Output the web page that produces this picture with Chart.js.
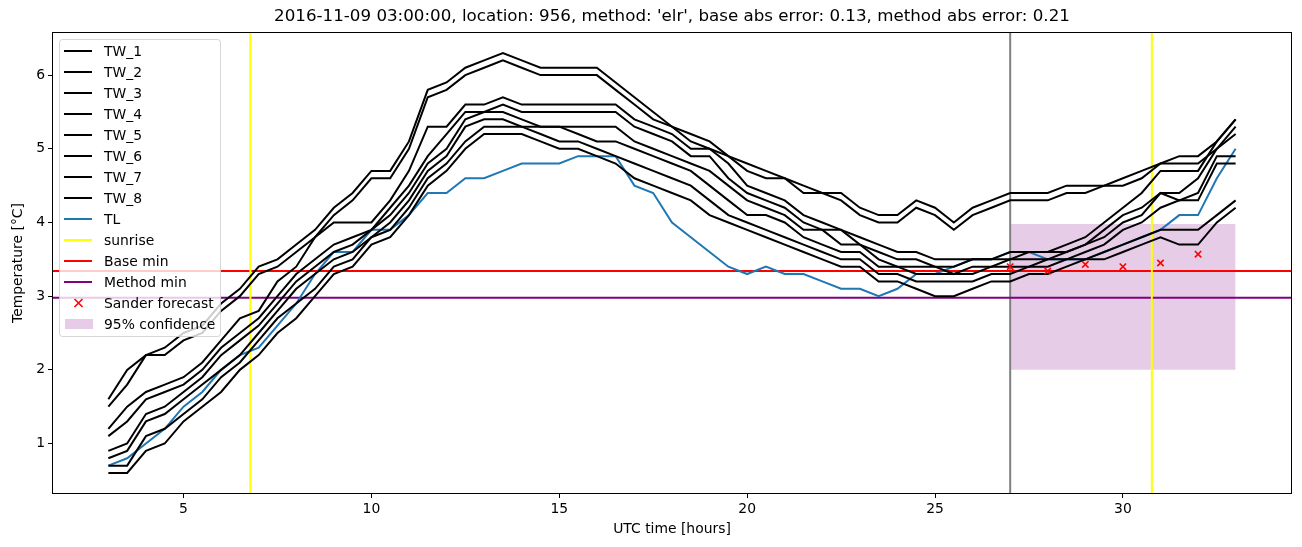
<!DOCTYPE html>
<html lang="en">
<head>
  <meta charset="UTF-8">
  <title>Temperature forecast</title>
  <script src="https://cdn.jsdelivr.net/npm/chart.js"></script>
</head>
<body>
  <div id="chart-container">
    <canvas id="temp-chart" width="1302" height="547"></canvas>
  </div>
</body>
</html>
<style>
html, body { margin: 0; padding: 0; background: #fff; }
#chart-container { width: 1302px; height: 547px; }
canvas { display: block; }
</style>
<script>
// time axis (UTC hours) shared by all measured series
const hours = [3,3.5,4,4.5,5,5.5,6,6.5,7,7.5,8,8.5,9,9.5,10,10.5,11,11.5,12,12.5,13,13.5,14,14.5,15,15.5,16,16.5,17,17.5,18,18.5,19,19.5,20,20.5,21,21.5,22,22.5,23,23.5,24,24.5,25,25.5,26,26.5,27,27.5,28,28.5,29,29.5,30,30.5,31,31.5,32,32.5,33];

const tw1 = [1.6,2.0,2.2,2.3,2.5,2.6,2.9,3.1,3.4,3.5, 3.7,3.9,4.2,4.4,4.7,4.7,5.1,5.8,5.9,6.1, 6.2,6.3,6.2,6.1,6.1,6.1,6.1,5.9,5.7,5.5, 5.3,5.2,5.1,4.9,4.8,4.7,4.6,4.5,4.4,4.4, 4.2,4.1,4.1,4.3,4.2,4.0,4.2,4.3,4.4,4.4, 4.4,4.5,4.5,4.5,4.6,4.7,4.8,4.9,4.9,5.1, 5.4];
const tw2 = [1.5,1.8,2.2,2.2,2.4,2.5,2.8,3.0,3.3,3.4, 3.6,3.8,4.1,4.3,4.6,4.6,5.0,5.7,5.8,6.0, 6.1,6.2,6.1,6.0,6.0,6.0,6.0,5.8,5.6,5.4, 5.3,5.1,5.0,4.9,4.7,4.6,4.6,4.4,4.4,4.3, 4.1,4.0,4.0,4.2,4.1,3.9,4.1,4.2,4.3,4.3, 4.3,4.4,4.4,4.5,4.5,4.6,4.8,4.8,4.8,5.0, 5.3];
const tw3 = [1.2,1.5,1.7,1.8,1.9,2.1,2.4,2.7,2.8,3.2, 3.4,3.8,4.0,4.0,4.0,4.3,4.7,5.3,5.3,5.6, 5.6,5.7,5.6,5.6,5.6,5.6,5.6,5.6,5.4,5.3, 5.2,5.0,5.0,4.8,4.5,4.4,4.3,4.1,4.0,3.9, 3.8,3.7,3.6,3.6,3.5,3.5,3.5,3.5,3.6,3.6, 3.6,3.7,3.8,4.0,4.2,4.4,4.7,4.7,4.7,5.1, 5.4];
const tw4 = [1.1,1.3,1.6,1.7,1.8,2.0,2.3,2.5,2.7,3.0, 3.3,3.5,3.7,3.8,3.9,4.2,4.5,4.9,5.2,5.5, 5.5,5.6,5.5,5.5,5.5,5.5,5.5,5.5,5.3,5.2, 5.1,4.9,4.9,4.6,4.4,4.3,4.2,4.0,3.9,3.9, 3.7,3.6,3.5,3.5,3.4,3.4,3.5,3.5,3.5,3.6, 3.6,3.6,3.7,3.9,4.1,4.2,4.4,4.4,4.6,5.0, 5.2];
const tw5 = [0.9,1.0,1.4,1.5,1.7,1.9,2.2,2.4,2.6,2.9, 3.2,3.4,3.6,3.7,3.9,4.1,4.4,4.8,5.0,5.4, 5.5,5.5,5.4,5.3,5.3,5.3,5.3,5.3,5.1,5.0, 4.9,4.8,4.7,4.5,4.3,4.2,4.1,3.9,3.9,3.7, 3.7,3.5,3.4,3.4,3.4,3.3,3.4,3.4,3.5,3.5, 3.5,3.6,3.7,3.8,4.0,4.1,4.4,4.3,4.4,4.9, 4.9];
const tw6 = [0.8,0.9,1.3,1.4,1.6,1.8,2.0,2.2,2.5,2.8, 3.1,3.3,3.5,3.6,3.8,4.0,4.3,4.7,4.9,5.3, 5.4,5.4,5.3,5.3,5.3,5.2,5.1,5.1,5.0,4.9, 4.8,4.7,4.5,4.3,4.1,4.1,4.0,3.8,3.7,3.6, 3.6,3.4,3.4,3.3,3.3,3.3,3.3,3.4,3.4,3.4, 3.5,3.5,3.6,3.7,3.9,4.0,4.2,4.3,4.3,4.8, 4.8];
const tw7 = [0.7,0.7,1.1,1.2,1.4,1.6,1.9,2.1,2.4,2.7, 2.9,3.1,3.4,3.5,3.8,3.9,4.2,4.6,4.8,5.1, 5.3,5.3,5.3,5.2,5.1,5.1,5.0,4.9,4.8,4.7, 4.6,4.5,4.3,4.1,4.0,3.9,3.8,3.7,3.6,3.5, 3.5,3.3,3.3,3.2,3.2,3.2,3.2,3.3,3.3,3.4, 3.4,3.5,3.5,3.6,3.7,3.8,3.9,3.9,3.9,4.1, 4.3];
const tw8 = [0.6,0.6,0.9,1.0,1.3,1.5,1.7,2.0,2.2,2.5, 2.7,3.0,3.3,3.4,3.7,3.8,4.1,4.5,4.7,5.0, 5.2,5.2,5.2,5.1,5.0,5.0,4.9,4.8,4.6,4.5, 4.4,4.3,4.1,4.0,3.9,3.8,3.7,3.6,3.5,3.4, 3.4,3.2,3.2,3.1,3.0,3.0,3.1,3.2,3.2,3.3, 3.3,3.4,3.5,3.5,3.6,3.7,3.8,3.7,3.7,4.0, 4.2];
const tl  = [0.7,0.8,1.0,1.2,1.5,1.7,2.0,2.2,2.3,2.6, 2.9,3.3,3.6,3.6,3.9,3.9,4.1,4.4,4.4,4.6, 4.6,4.7,4.8,4.8,4.8,4.9,4.9,4.9,4.5,4.4, 4.0,3.8,3.6,3.4,3.3,3.4,3.3,3.3,3.2,3.1, 3.1,3.0,3.1,3.3,3.3,3.4,3.5,3.5,3.6,3.6, 3.5,3.5,3.5,3.6,3.7,3.8,3.9,4.1,4.1,4.6, 5.0];

const sunriseHours = [6.78, 30.77];
const forecastStart = 27;
const baseMin = 3.34;
const methodMin = 2.98;
const forecastHours = [27, 28, 29, 30, 31, 32];
const forecastTemps = [3.40, 3.34, 3.43, 3.40, 3.45, 3.57];
const confHours = [27, 33];
const confLow = 2.0;
const confHigh = 3.98;

const xTicks = [5, 10, 15, 20, 25, 30];
const yTicks = [1, 2, 3, 4, 5, 6];
const xMin = 1.5, xMax = 34.5;
const yMin = 0.315, yMax = 6.585;

const titleText = "2016-11-09 03:00:00, location: 956, method: 'elr', base abs error: 0.13, method abs error: 0.21";
const FONT = '"DejaVu Sans", sans-serif';

function series(vals) {
  return hours.map((h, i) => ({ x: h, y: vals[i] }));
}

function vlines(xs) {
  const pts = [];
  xs.forEach((x, i) => {
    if (i > 0) pts.push({ x: x - 0.01, y: null });
    pts.push({ x: x, y: yMin }, { x: x, y: yMax });
  });
  return pts;
}

const lineBase = { pointRadius: 0, borderWidth: 2, tension: 0, fill: false, spanGaps: false };
const twSeries = [tw1, tw2, tw3, tw4, tw5, tw6, tw7, tw8];

const datasets = twSeries.map((vals, i) => Object.assign({
  label: 'TW_' + (i + 1), data: series(vals), borderColor: '#000000'
}, lineBase));

datasets.push(Object.assign({ label: 'TL', data: series(tl), borderColor: '#1f77b4' }, lineBase));
datasets.push(Object.assign({ label: 'sunrise', data: vlines(sunriseHours), borderColor: '#ffff00' }, lineBase));
datasets.push(Object.assign({ label: 'Base min', data: [{ x: xMin, y: baseMin }, { x: xMax, y: baseMin }], borderColor: '#ff0000' }, lineBase));
datasets.push(Object.assign({ label: 'Method min', data: [{ x: xMin, y: methodMin }, { x: xMax, y: methodMin }], borderColor: '#800080' }, lineBase));
datasets.push(Object.assign({ label: '_start', data: vlines([forecastStart]), borderColor: '#808080' }, lineBase));
datasets.push({
  label: 'Sander forecast', type: 'scatter',
  data: forecastHours.map((h, i) => ({ x: h, y: forecastTemps[i] })),
  showLine: false, pointStyle: 'crossRot', pointRadius: 4.5, pointBorderWidth: 1.6,
  borderColor: '#ff0000', backgroundColor: '#ff0000', order: -1
});
datasets.push({
  label: '95% confidence', data: confHours.map(h => ({ x: h, y: confHigh })),
  fill: { value: confLow }, backgroundColor: 'rgba(128,0,128,0.2)', borderWidth: 0,
  pointRadius: 0, order: 10
});

// matplotlib style frame, titles and legend
const decorations = {
  id: 'decorations',
  afterDraw(chart) {
    const ctx = chart.ctx;
    const a = chart.chartArea;
    ctx.save();
    ctx.strokeStyle = '#000';
    ctx.lineWidth = 1;
    ctx.strokeRect(Math.round(a.left) + 0.5, Math.round(a.top) + 0.5,
      Math.round(a.right - a.left) - 1, Math.round(a.bottom - a.top) - 1);

    ctx.fillStyle = '#000';
    ctx.textAlign = 'center';
    ctx.textBaseline = 'middle';
    ctx.font = '16.7px ' + FONT;
    ctx.fillText(titleText, (a.left + a.right) / 2, 17);
    ctx.font = '13.9px ' + FONT;
    ctx.fillText('UTC time [hours]', (a.left + a.right) / 2, 529);
    ctx.save();
    ctx.translate(18, (a.top + a.bottom) / 2);
    ctx.rotate(-Math.PI / 2);
    ctx.fillText('Temperature [\u00B0C]', 0, 0);
    ctx.restore();

    // legend
    const items = chart.data.datasets.filter(d => !d.label.startsWith('_'));
    const bx = 59.5, by = 39.5, bw = 161, bh = 297;
    ctx.beginPath();
    ctx.roundRect(bx, by, bw, bh, 3);
    ctx.fillStyle = 'rgba(255,255,255,0.8)';
    ctx.fill();
    ctx.strokeStyle = 'rgba(204,204,204,0.8)';
    ctx.lineWidth = 1;
    ctx.stroke();
    ctx.textAlign = 'left';
    ctx.font = '13.9px ' + FONT;
    items.forEach((d, i) => {
      const y = 51 + 21 * i;
      if (d.type === 'scatter') {
        ctx.strokeStyle = d.borderColor;
        ctx.lineWidth = 1.6;
        ctx.beginPath();
        ctx.moveTo(74.5, y - 4); ctx.lineTo(82.5, y + 4);
        ctx.moveTo(82.5, y - 4); ctx.lineTo(74.5, y + 4);
        ctx.stroke();
      } else if (d.fill) {
        ctx.fillStyle = d.backgroundColor;
        ctx.fillRect(65, y - 5, 28, 10);
      } else {
        ctx.strokeStyle = d.borderColor;
        ctx.lineWidth = 2;
        ctx.beginPath();
        ctx.moveTo(64, y); ctx.lineTo(92, y);
        ctx.stroke();
      }
      ctx.fillStyle = '#000';
      ctx.fillText(d.label, 104, y + 1);
    });
    ctx.restore();
  }
};

new Chart(document.getElementById('temp-chart').getContext('2d'), {
  type: 'line',
  data: { datasets },
  options: {
    responsive: false,
    animation: false,
    devicePixelRatio: 1,
    layout: { padding: { top: 32, right: 10, left: 0, bottom: 0 } },
    plugins: { legend: { display: false }, tooltip: { enabled: false }, title: { display: false } },
    scales: {
      x: {
        type: 'linear', min: xMin, max: xMax,
        afterBuildTicks: s => { s.ticks = xTicks.map(v => ({ value: v })); },
        afterFit: s => { s.height = 53; },
        grid: { drawOnChartArea: false, drawTicks: true, tickLength: 4, color: '#000', lineWidth: 1 },
        border: { display: false },
        ticks: { color: '#000', font: { family: FONT, size: 13.9 }, padding: 3, maxRotation: 0 }
      },
      y: {
        type: 'linear', min: yMin, max: yMax,
        afterBuildTicks: s => { s.ticks = yTicks.map(v => ({ value: v })); },
        afterFit: s => { s.width = 52; },
        grid: { drawOnChartArea: false, drawTicks: true, tickLength: 4, color: '#000', lineWidth: 1 },
        border: { display: false },
        ticks: { color: '#000', font: { family: FONT, size: 13.9 }, padding: 3 }
      }
    }
  },
  plugins: [decorations]
});
</script>
